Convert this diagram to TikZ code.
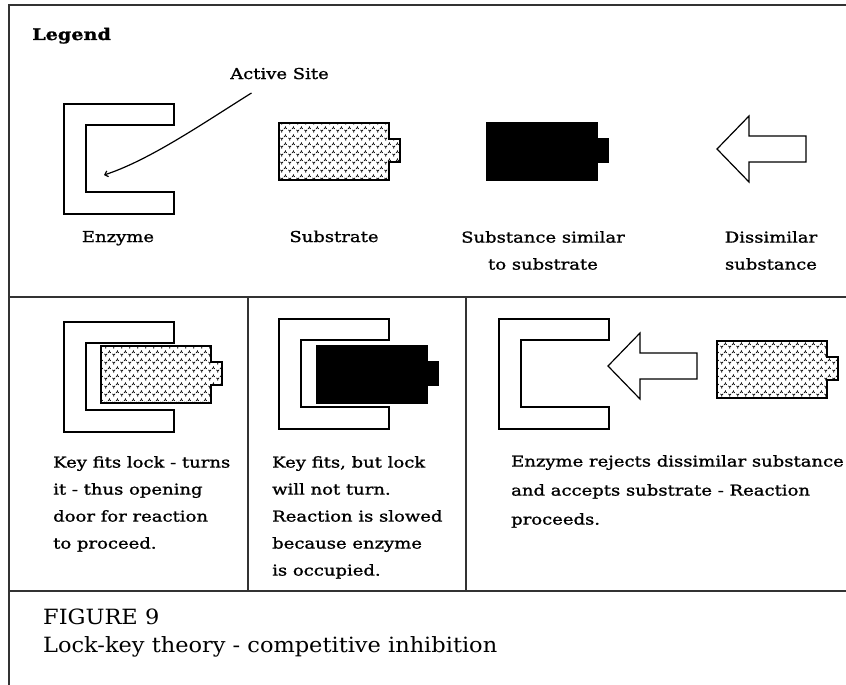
\documentclass[tikz,border=0pt]{standalone}
\usepackage{fontspec}
\usetikzlibrary{patterns,arrows.meta}
\newfontfamily\pixfont[FakeStretch=1.2,FakeBold=1.2]{DejaVu Serif}
\newfontfamily\capfont[FakeStretch=1.07]{DejaVu Serif}
% grainy fill of the substrate
\pgfdeclarepatternformonly{grain}{\pgfpointorigin}{\pgfpoint{8pt}{8pt}}{\pgfpoint{8pt}{8pt}}{
  \pgfsetlinewidth{0.8pt}
  \pgfpathmoveto{\pgfpoint{0.5pt}{3.5pt}}\pgfpathlineto{\pgfpoint{2pt}{2pt}}\pgfpathlineto{\pgfpoint{3.5pt}{3.5pt}}
  \pgfpathmoveto{\pgfpoint{2pt}{2pt}}\pgfpathlineto{\pgfpoint{2pt}{0.5pt}}
  \pgfpathmoveto{\pgfpoint{4.5pt}{4.5pt}}\pgfpathlineto{\pgfpoint{6pt}{6pt}}\pgfpathlineto{\pgfpoint{7.5pt}{4.5pt}}
  \pgfpathmoveto{\pgfpoint{6pt}{6pt}}\pgfpathlineto{\pgfpoint{6pt}{7.5pt}}
  \pgfusepath{stroke}}
\tikzset{
  frame/.style={line width=2pt, black!80},
  wall/.style={line width=1.4pt},
  lbl/.style={font=\pixfont\fontsize{15}{27}\selectfont, inner sep=0pt},
  note/.style={lbl, align=left, anchor=north west},
  caption/.style={font=\capfont\fontsize{21}{29}\selectfont, inner sep=0pt, anchor=base west},
  enzyme/.pic={\draw[wall] (0,0) -- (110,0) -- (110,21) -- (22,21) -- (22,88) -- (110,88) -- (110,110) -- (0,110) -- cycle;},
  key/.pic={\draw[wall, pic actions] (0,0) -- (110,0) -- (110,16) -- (121,16) -- (121,39) -- (110,39) -- (110,57) -- (0,57) -- cycle;},
  reject/.pic={\draw[line width=1.2pt, fill=white] (0,0) -- (32,-33) -- (32,-13) -- (89,-13) -- (89,13) -- (32,13) -- (32,33) -- cycle;}
}
\begin{document}
\begin{tikzpicture}[x=1pt, y=-1pt]
\useasboundingbox (0,0) rectangle (846,685);
\draw[frame] (9,690) -- (9,5) -- (850,5);
\draw[frame] (9,297) -- (850,297);
\draw[frame] (9,591) -- (850,591);
\draw[frame] (248,297) -- (248,591);
\draw[frame] (466,297) -- (466,591);

% legend
\node[lbl, font=\pixfont\fontsize{16}{20}\selectfont\bfseries, anchor=base west] (legend) at (32,40) {Legend};
\pic at (64,104) {enzyme};
\pic[pattern=grain] at (279,123) {key};
\pic[fill=black] at (487,123) {key};
\pic at (717,149) {reject};
\node[lbl, anchor=base west] (asite) at (230,79) {Active Site};
\coordinate (site) at (104,175);
\draw[line width=1.2pt, -{Straight Barb[length=3pt,width=6pt]}] ([xshift=-28pt,yshift=-14pt]asite.base) .. controls (205,122) and (150,160) .. (site);
\node[lbl, anchor=base] (enz) at (118,242) {Enzyme};
\node[lbl, anchor=base] (sub) at (334,242) {Substrate};
\node[lbl, align=center, anchor=north] (sim) at (543,231) {Substance similar\\to substrate};
\node[lbl, align=center, anchor=north] (dis) at (771,231) {Dissimilar\\substance};

% panels
\pic at (64,322) {enzyme};
\pic[pattern=grain] at (101,346) {key};
\pic at (279,319) {enzyme};
\pic[fill=black] at (317,346) {key};
\pic at (499,319) {enzyme};
\pic at (608,366) {reject};
\pic[pattern=grain] at (717,341) {key};

\node[note] (fits) at (53,456) {Key fits lock - turns\\it - thus opening\\door for reaction\\to proceed.};
\node[note] (slow) at (272,456) {Key fits, but lock\\will not turn.\\Reaction is slowed\\because enzyme\\is occupied.};
\node[note, font=\pixfont\fontsize{15}{29}\selectfont] (rej) at (511,455) {Enzyme rejects dissimilar substance\\and accepts substrate - Reaction\\proceeds.};

% caption
\node[caption] (fig) at (43,624) {FIGURE 9};
\node[caption] (title) at (43,652) {Lock-key theory - competitive inhibition};
\end{tikzpicture}
\end{document}
